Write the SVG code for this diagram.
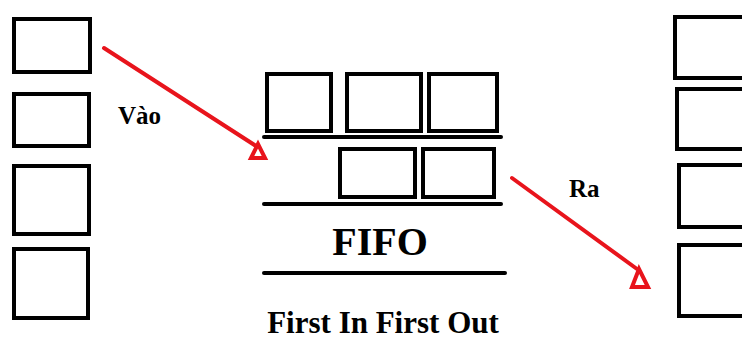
<svg xmlns="http://www.w3.org/2000/svg" width="742" height="340" viewBox="0 0 742 340">
<style>
.box{fill:#fff;stroke:#000;stroke-width:4}
.bar{stroke:#000;stroke-width:4;stroke-linecap:round}
.arr{stroke:#e8141c;stroke-width:4;fill:none;stroke-linecap:round}
.head{fill:#fff;stroke:#e8141c;stroke-width:4;stroke-linejoin:miter}
.t{font-family:"Liberation Serif","Times New Roman","DejaVu Serif",serif;font-weight:bold;fill:#000}
</style>
<rect width="742" height="340" fill="#fff"/>
<g id="input">
<rect id="in1" class="box" x="14" y="19" width="76" height="53"/>
<rect id="in2" class="box" x="14" y="94" width="75" height="52"/>
<rect id="in3" class="box" x="14" y="166" width="75" height="68"/>
<rect id="in4" class="box" x="14" y="249" width="74" height="69"/>
</g>
<g id="queue">
<rect class="box" x="267" y="74" width="64" height="57"/>
<rect class="box" x="347" y="74" width="74" height="57"/>
<rect class="box" x="429" y="74" width="68" height="57"/>
<line class="bar" x1="264" y1="137" x2="501" y2="137"/>
<rect class="box" x="340" y="149" width="75" height="48"/>
<rect class="box" x="423" y="149" width="71" height="48"/>
<line class="bar" x1="264" y1="204" x2="501" y2="204"/>
<text class="t" x="380" y="255" font-size="40" text-anchor="middle">FIFO</text>
<line class="bar" x1="264" y1="273" x2="505" y2="273"/>
<text class="t" x="383" y="333" font-size="31" text-anchor="middle">First In First Out</text>
</g>
<g id="output">
<rect id="out1" class="box" x="675" y="17" width="80" height="61"/>
<rect id="out2" class="box" x="677" y="89" width="80" height="60"/>
<rect id="out3" class="box" x="679" y="165" width="80" height="62"/>
<rect id="out4" class="box" x="679" y="245" width="80" height="71"/>
</g>
<g id="connectors">
<line class="arr" x1="104" y1="48" x2="256" y2="146"/>
<polygon class="head" points="258,144 251,158 265,158"/>
<text class="t" x="118" y="124" font-size="25">Vào</text>
<line class="arr" x1="512" y1="178" x2="637" y2="269"/>
<polygon class="head" points="639,269 632,287 648,287"/>
<text class="t" x="569" y="197" font-size="25">Ra</text>
</g>
</svg>
